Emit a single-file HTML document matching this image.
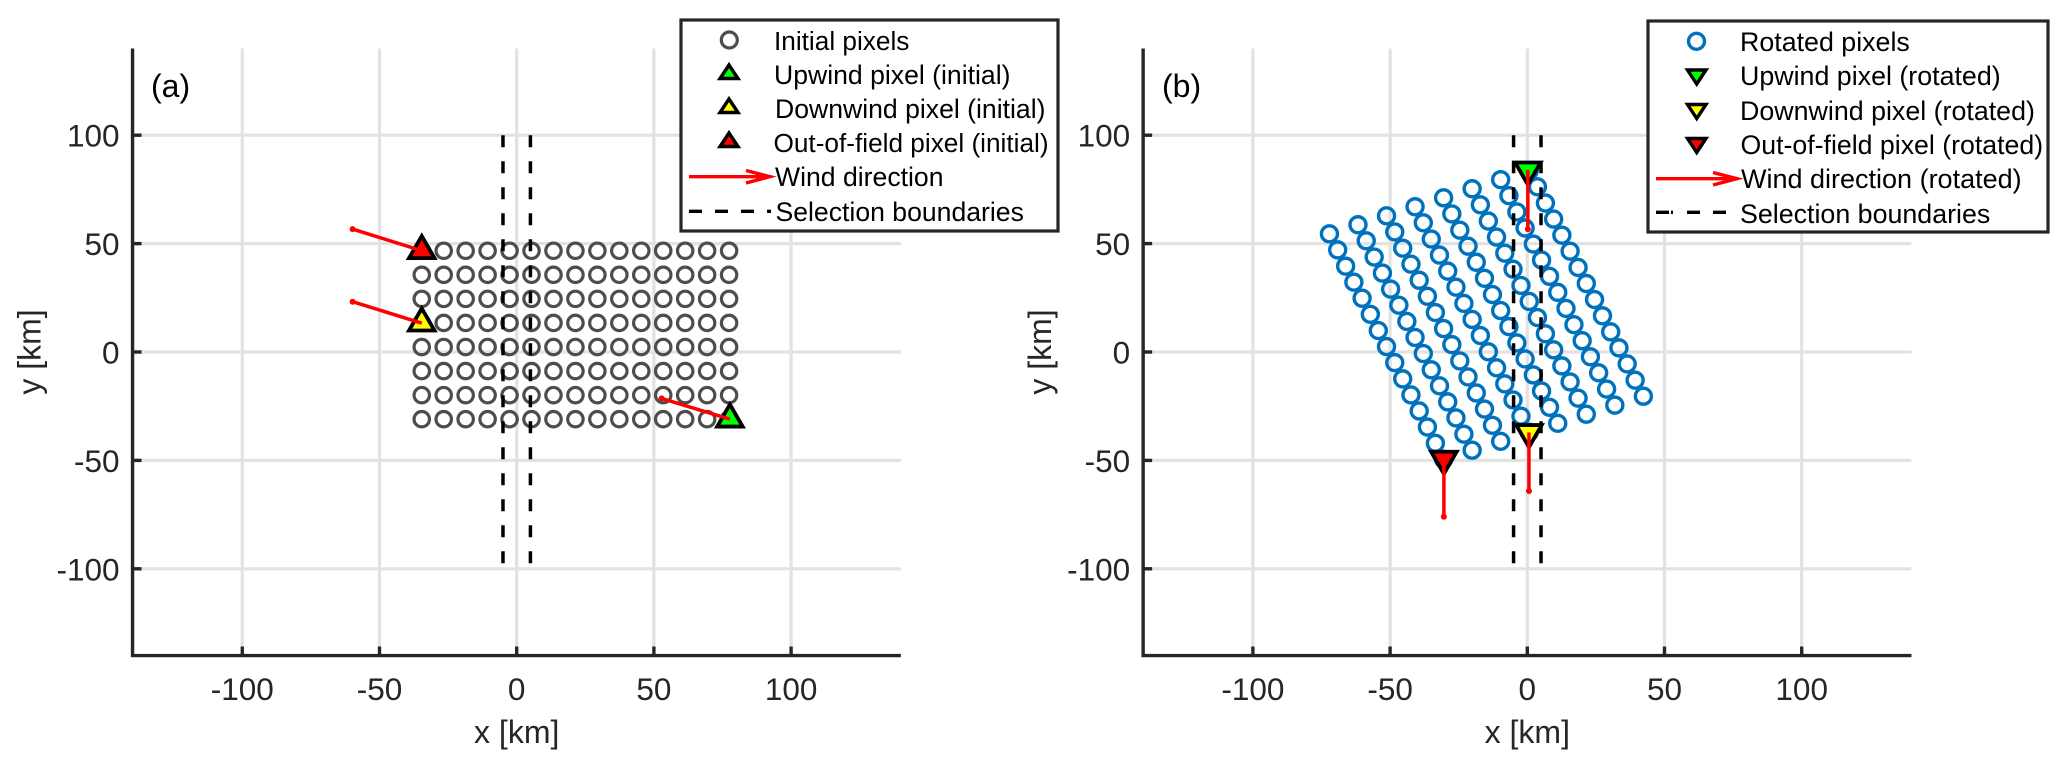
<!DOCTYPE html>
<html>
<head>
<meta charset="utf-8">
<title>Pixel rotation chart</title>
<style>
html,body{margin:0;padding:0;background:#fff;}
svg{display:block;}
text{font-family:"Liberation Sans",Arial,sans-serif;}
.tick{font-size:31.5px;fill:#262626;}
.axis-title{font-size:32px;fill:#262626;}
.leg{font-size:26.6px;fill:#000;}
</style>
</head>
<body>
<svg id="chart" xmlns="http://www.w3.org/2000/svg" width="2067" height="767" viewBox="0 0 2067 767">
<g id="panel-a"></g>
<g id="panel-b"></g>

<g>
<rect x="681" y="20" width="377" height="211" fill="#fff" stroke="#262626" stroke-width="3.2"/>
<circle cx="729.3" cy="40" r="8" fill="none" stroke="#4d4d4d" stroke-width="3.2"/>
<text class="leg" style="font-size:26.2px" x="774" y="50">Initial pixels</text>
<polygon points="729,65 720,78.5 738,78.5" fill="#00ff00" stroke="#000" stroke-width="3.4"/>
<text class="leg" x="774" y="84">Upwind pixel (initial)</text>
<polygon points="729,99 720,112.5 738,112.5" fill="#ffff00" stroke="#000" stroke-width="3.4"/>
<text class="leg" x="775" y="118">Downwind pixel (initial)</text>
<polygon points="729,133 720,146.5 738,146.5" fill="#ff0000" stroke="#000" stroke-width="3.4"/>
<text class="leg" style="font-size:26.2px" x="773.5" y="152">Out-of-field pixel (initial)</text>
<path d="M689 176.7H770M746 170.5L770 176.7L746 183" fill="none" stroke="#ff0000" stroke-width="3.4"/>
<text class="leg" x="775" y="186">Wind direction</text>
<line x1="689" y1="211.3" x2="771" y2="211.3" stroke="#000" stroke-width="3.4" stroke-dasharray="13 13"/>
<text class="leg" x="775.5" y="221">Selection boundaries</text>
</g>

<g>
<rect x="1648" y="21" width="400" height="211" fill="#fff" stroke="#262626" stroke-width="3.2"/>
<circle cx="1696.5" cy="41.3" r="8" fill="none" stroke="#0072BD" stroke-width="3.4"/>
<text class="leg" style="font-size:26.8px" x="1740" y="51">Rotated pixels</text>
<polygon points="1696.7,84 1687.5,70 1706,70" fill="#00ff00" stroke="#000" stroke-width="3.4"/>
<text class="leg" style="font-size:26.8px" x="1740" y="85">Upwind pixel (rotated)</text>
<polygon points="1696.7,118.5 1687.5,104.5 1706,104.5" fill="#ffff00" stroke="#000" stroke-width="3.4"/>
<text class="leg" style="font-size:26.8px" x="1740" y="120">Downwind pixel (rotated)</text>
<polygon points="1696.7,152.5 1687.5,138.5 1706,138.5" fill="#ff0000" stroke="#000" stroke-width="3.4"/>
<text class="leg" style="font-size:26.7px" x="1740.5" y="154">Out-of-field pixel (rotated)</text>
<path d="M1656 178.7H1737M1713 172.5L1737 178.7L1713 185" fill="none" stroke="#ff0000" stroke-width="3.4"/>
<text class="leg" style="font-size:27px" x="1741" y="188">Wind direction (rotated)</text>
<line x1="1656" y1="212.3" x2="1726" y2="212.3" stroke="#000" stroke-width="3.4" stroke-dasharray="13 2 2 14 13 13 13 0"/>
<text class="leg" style="font-size:26.8px" x="1740" y="223">Selection boundaries</text>
</g>
</svg>

<script>
const tickValues = [-100, -50, 0, 50, 100];
const tickLabels = ['-100', '-50', '0', '50', '100'];
const selectionBoundsX = [-5, 5];
const selectionRangeY = [-100, 100];

const initialColumnsX = [-34.6, -26.6, -18.6, -10.6, -2.6, 5.4, 13.4, 21.4, 29.4, 37.4, 45.4, 53.4, 61.4, 69.4, 77.4];
const initialRowsY = [46.7, 35.6, 24.5, 13.4, 2.3, -8.8, -19.9, -31.0];

const specialInitialX = [77.7, -34.6, -34.6];
const specialInitialY = [-31.0, 13.3, 46.7];
const windTailInitialX = [52.8, -59.8, -59.8];
const windTailInitialY = [-21.4, 23.2, 56.7];

const rotatedX = [
 [-30.5,-33.5,-36.4,-39.4,-42.4,-45.4,-48.3,-51.3,-54.3,-57.2,-60.2,-63.2,-66.2,-69.1,-72.1],
 [-20.1,-23.1,-26.0,-29.0,-32.0,-35.0,-37.9,-40.9,-43.9,-46.8,-49.8,-52.8,-55.8,-58.7,-61.7],
 [-9.7,-12.7,-15.6,-18.6,-21.6,-24.6,-27.5,-30.5,-33.5,-36.4,-39.4,-42.4,-45.4,-48.3,-51.3],
 [0.7,-2.3,-5.2,-8.2,-11.2,-14.2,-17.1,-20.1,-23.1,-26.0,-29.0,-32.0,-35.0,-37.9,-40.9],
 [11.1,8.1,5.2,2.2,-0.8,-3.8,-6.7,-9.7,-12.7,-15.6,-18.6,-21.6,-24.6,-27.5,-30.5],
 [21.5,18.5,15.6,12.6,9.6,6.6,3.7,0.7,-2.3,-5.2,-8.2,-11.2,-14.2,-17.1,-20.1],
 [31.9,28.9,26.0,23.0,20.0,17.0,14.1,11.1,8.1,5.2,2.2,-0.8,-3.8,-6.7,-9.7],
 [42.3,39.3,36.4,33.4,30.4,27.4,24.5,21.5,18.5,15.6,12.6,9.6,6.6,3.7,0.7]
];
const rotatedY = [
 [-49.5,-42.1,-34.6,-27.2,-19.8,-12.4,-4.9,2.5,9.9,17.4,24.8,32.2,39.6,47.1,54.5],
 [-45.3,-37.9,-30.4,-23.0,-15.6,-8.2,-0.7,6.7,14.1,21.6,29.0,36.4,43.8,51.3,58.7],
 [-41.2,-33.8,-26.3,-18.9,-11.5,-4.1,3.4,10.8,18.2,25.7,33.1,40.5,47.9,55.4,62.8],
 [-37.0,-29.6,-22.1,-14.7,-7.3,0.1,7.6,15.0,22.4,29.9,37.3,44.7,52.1,59.6,67.0],
 [-32.9,-25.5,-18.0,-10.6,-3.2,4.2,11.7,19.1,26.5,34.0,41.4,48.8,56.2,63.7,71.1],
 [-28.7,-21.3,-13.8,-6.4,1.0,8.4,15.9,23.3,30.7,38.2,45.6,53.0,60.4,67.9,75.3],
 [-24.5,-17.1,-9.6,-2.2,5.2,12.6,20.1,27.5,34.9,42.4,49.8,57.2,64.6,72.1,79.5],
 [-20.4,-13.0,-5.5,1.9,9.3,16.7,24.2,31.6,39.0,46.5,53.9,61.3,68.7,76.2,83.6]
];

const specialRotatedX = [0.2, 0.6, -30.4];
const specialRotatedY = [84.0, -37.1, -49.4];
const windTailRotatedX = [0.2, 0.6, -30.4];
const windTailRotatedY = [56.7, -64.1, -76.0];

const specialNames = ['upwind', 'downwind', 'out-of-field'];
const specialColors = ['#00ff00', '#ffff00', '#ff0000'];

const NS = 'http://www.w3.org/2000/svg';
const PX_X = 2.744;
const PX_Y = 2.168;
const AXIS_RANGE = 140;
const ZERO_Y = 352;

function make(parent, tag, attrs, text) {
  const el = document.createElementNS(NS, tag);
  for (const key in attrs) el.setAttribute(key, attrs[key]);
  if (text !== undefined) el.textContent = text;
  parent.appendChild(el);
  return el;
}

function sy(v) { return ZERO_Y - v * PX_Y; }

function drawAxes(g, sx) {
  const left = sx(-AXIS_RANGE), right = sx(AXIS_RANGE), top = sy(AXIS_RANGE), bottom = sy(-AXIS_RANGE);
  tickValues.forEach(function (v, i) {
    const gx = make(g, 'line', {x1: sx(v), x2: sx(v), y1: top, y2: bottom, stroke: '#e2e2e2', 'stroke-width': 3.2});
    
    
    const gy = make(g, 'line', {x1: left, x2: right, y1: sy(v), y2: sy(v), stroke: '#e2e2e2', 'stroke-width': 3.2});
    
    
    const tx = make(g, 'line', {x1: sx(v), x2: sx(v), y1: bottom, y2: bottom - 9, stroke: '#262626', 'stroke-width': 3.4});
    
    
    const ty = make(g, 'line', {x1: left, x2: left + 9, y1: sy(v), y2: sy(v), stroke: '#262626', 'stroke-width': 3.4});
    
    
    const lx = make(g, 'text', {x: sx(v), y: 700, 'text-anchor': 'middle', 'class': 'tick'}, tickLabels[i]);
    
    
    const ly = make(g, 'text', {x: left - 13, y: sy(v) + 11.5, 'text-anchor': 'end', 'class': 'tick'}, tickLabels[i]);
    
    
  });
  const ax = make(g, 'path', {d: 'M' + left + ' ' + top + 'V' + bottom + 'H' + right, fill: 'none', stroke: '#262626', 'stroke-width': 3.4});
  
  
  const xt = make(g, 'text', {x: sx(0), y: 743, 'text-anchor': 'middle', 'class': 'axis-title'}, 'x [km]');
  
  
  const yx = left - 92;
  const yt = make(g, 'text', {x: yx, y: ZERO_Y, 'text-anchor': 'middle', 'class': 'axis-title', transform: 'rotate(-90 ' + yx + ' ' + ZERO_Y + ')'}, 'y [km]');
  
  
}

function drawSelection(g, sx) {
  selectionBoundsX.forEach(function (v) {
    const l = make(g, 'line', {x1: sx(v), x2: sx(v), y1: sy(selectionRangeY[1]), y2: sy(selectionRangeY[0]), stroke: '#000', 'stroke-width': 3.5, 'stroke-dasharray': '12 14'});
    
    
  });
}

function trianglePoints(cx, cy, down) {
  const side = 25.5, h = side * 0.866, s = down ? -1 : 1;
  return [cx, cy - s * h * 2 / 3, cx - side / 2, cy + s * h / 3, cx + side / 2, cy + s * h / 3].join(' ');
}

function drawSpecials(g, sx, xs, ys, down) {
  xs.forEach(function (x, i) {
    const m = make(g, 'polygon', {points: trianglePoints(sx(x), sy(ys[i]), down), fill: specialColors[i], stroke: '#000', 'stroke-width': 3.8});
    
    
  });
}

function drawWind(g, sx, xs, ys, tx, ty) {
  xs.forEach(function (x, i) {
    const x1 = sx(x), y1 = sy(ys[i]), x2 = sx(tx[i]), y2 = sy(ty[i]);
    const l = make(g, 'line', {x1: x1, y1: y1, x2: x2, y2: y2, stroke: '#ff0000', 'stroke-width': 3.5});
    
    
    const a = make(g, 'circle', {cx: x2, cy: y2, r: 3, fill: '#ff0000'});
    
    
  });
}

function panelLabel(g, x, t) {
  const el = make(g, 'text', {x: x, y: 97, 'font-size': 32, fill: '#000'}, t);
  
  
}

const sxA = function (v) { return 516.7 + v * PX_X; };
const sxB = function (v) { return 1527.3 + v * PX_X; };

const gA = document.getElementById('panel-a');
drawAxes(gA, sxA);
panelLabel(gA, 151, '(a)');
initialRowsY.forEach(function (y) {
  initialColumnsX.forEach(function (x) {
    const c = make(gA, 'circle', {cx: sxA(x), cy: sy(y), r: 7.7, fill: 'none', stroke: '#4d4d4d', 'stroke-width': 3.2});
    
    
  });
});
drawSelection(gA, sxA);
drawSpecials(gA, sxA, specialInitialX, specialInitialY, false);
drawWind(gA, sxA, specialInitialX, specialInitialY, windTailInitialX, windTailInitialY);

const gB = document.getElementById('panel-b');
drawAxes(gB, sxB);
panelLabel(gB, 1162, '(b)');
rotatedX.forEach(function (row, r) {
  row.forEach(function (x, c) {
    const p = make(gB, 'circle', {cx: sxB(x), cy: sy(rotatedY[r][c]), r: 8, fill: 'none', stroke: '#0072BD', 'stroke-width': 3.4});
    
    
  });
});
drawSelection(gB, sxB);
drawSpecials(gB, sxB, specialRotatedX, specialRotatedY, true);
drawWind(gB, sxB, specialRotatedX, specialRotatedY, windTailRotatedX, windTailRotatedY);
</script>
</body>
</html>
